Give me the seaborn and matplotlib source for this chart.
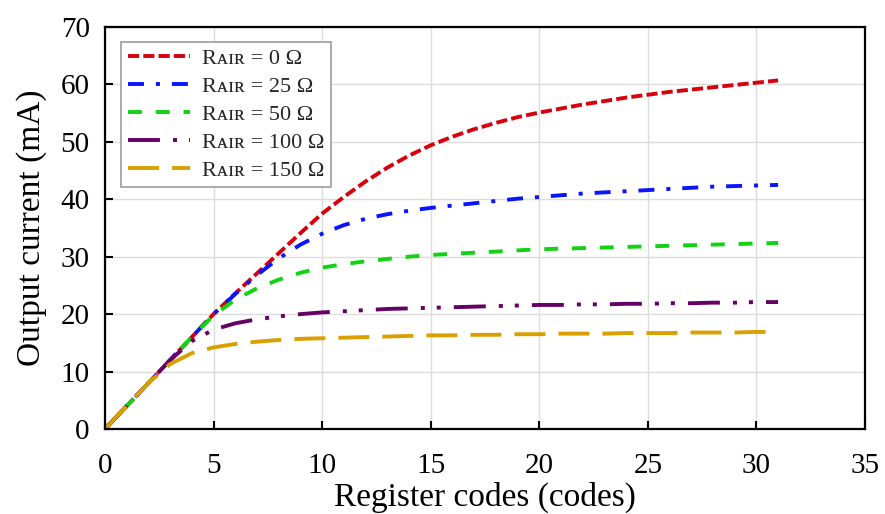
import numpy as np
import pandas as pd
import seaborn as sns
import matplotlib.pyplot as plt

sns.set_theme(style="whitegrid")
plt.rcParams['font.family'] = ['Liberation Serif', 'DejaVu Serif']
plt.rcParams['mathtext.fontset'] = 'dejavuserif'
plt.rcParams['lines.scale_dashes'] = False

# Dados
codes = list(range(32))
r0 = [0, 4, 8, 12, 16, 20, 23.6, 27.1, 30.6, 34.1, 37.5, 40.4, 43.1, 45.5, 47.6, 49.4,
      50.9, 52.2, 53.3, 54.3, 55.1, 55.8, 56.5, 57.1, 57.7, 58.2, 58.7, 59.1, 59.5, 59.9, 60.3, 60.7]
r25 = [0, 4, 8, 12, 16, 20, 23.5, 26.8, 29.7, 32.1, 34.0, 35.5, 36.6, 37.4, 38.0, 38.5,
       38.9, 39.3, 39.7, 40.1, 40.4, 40.7, 41.0, 41.2, 41.4, 41.6, 41.8, 42.0, 42.2, 42.3, 42.4, 42.5]
r50 = [0, 4, 8, 12, 16, 19.8, 22.5, 24.5, 26.0, 27.2, 28.1, 28.7, 29.2, 29.6, 30.0, 30.3,
       30.5, 30.7, 30.9, 31.1, 31.3, 31.4, 31.5, 31.6, 31.7, 31.8, 31.9, 32.0, 32.1, 32.2, 32.3, 32.4]
r100 = [0, 4, 8, 12, 15.3, 17.3, 18.4, 19.1, 19.6, 20.0, 20.3, 20.5, 20.7, 20.9, 21.0, 21.1,
        21.2, 21.3, 21.4, 21.5, 21.6, 21.6, 21.7, 21.7, 21.8, 21.8, 21.9, 21.9, 22.0, 22.0, 22.1, 22.1]
r150 = [0, 4, 8, 11.3, 13.2, 14.2, 14.8, 15.2, 15.5, 15.7, 15.8, 15.9, 16.0, 16.1, 16.2, 16.3,
        16.3, 16.4, 16.4, 16.5, 16.5, 16.6, 16.6, 16.6, 16.7, 16.7, 16.7, 16.8, 16.8, 16.8, 16.9, 16.9]
labels = ["R\u1d00\u026a\u0280 = 0 \u03a9", "R\u1d00\u026a\u0280 = 25 \u03a9", "R\u1d00\u026a\u0280 = 50 \u03a9",
          "R\u1d00\u026a\u0280 = 100 \u03a9", "R\u1d00\u026a\u0280 = 150 \u03a9"]

series = [r0, r25, r50, r100, r150]
colors = ["#d8000c", "#0a14ff", "#12d212", "#650065", "#d9a000"]
dashes = [(8, 3), (11.5, 8.6, 2.9, 8.6), (10, 10), (23, 9.4, 2.9, 8.6, 2.9, 9.4), (22.3, 9.4)]

fig, ax = plt.subplots(figsize=(8.85, 5.14), dpi=100)
fig.subplots_adjust(left=0.1186, right=0.9774, top=0.9475, bottom=0.1654)

for vals, lab, col, d in zip(series, labels, colors, dashes):
    sns.lineplot(x=codes, y=vals, color=col, lw=2.8, label=lab, ax=ax)
    ax.lines[-1].set_dashes(d)
    ax.lines[-1].set_dash_capstyle('butt')

ax.set_xlim(0, 35)
ax.set_ylim(0, 70)
ax.set_xticks(range(0, 36, 5))
ax.set_yticks(range(0, 71, 10))
ax.grid(True, color="#dcdcdc", lw=1)
for s in ax.spines.values():
    s.set_color("black")
    s.set_linewidth(1.6)
ax.tick_params(direction="in", length=6, width=1.5, colors="black", labelsize=21,
               bottom=True, left=True, pad=11)
ax.tick_params(axis="x", pad=17)
ax.set_xlabel("Register codes (codes)", fontsize=24, color="black", labelpad=2)
ax.set_ylabel("Output current (mA)", fontsize=24, color="black", labelpad=10)

leg = ax.legend(loc="upper left", fontsize=16, handlelength=2.8, handletextpad=0.55,
                fancybox=False, framealpha=1, edgecolor="#aaaaaa", borderpad=0.3,
                labelspacing=0.33, borderaxespad=0, bbox_to_anchor=(0.021, 0.963))
leg.get_frame().set_linewidth(1.4)

fig.savefig("out.png", dpi=100)
